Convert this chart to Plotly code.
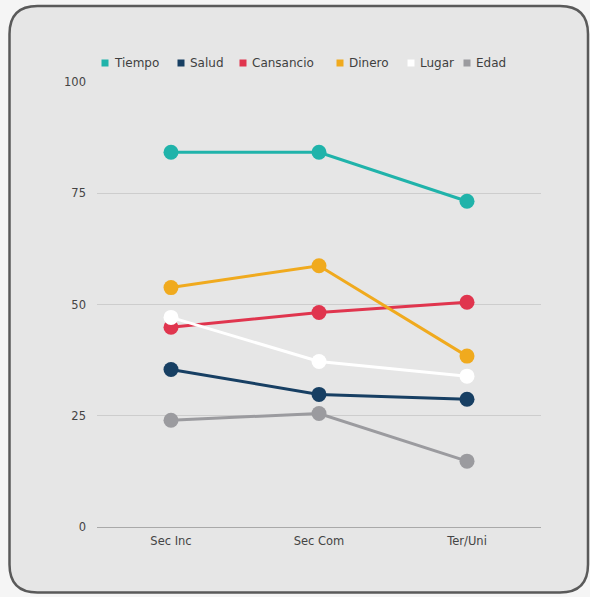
import plotly.graph_objects as go

categories = ["Sec Inc", "Sec Com", "Ter/Uni"]
series_names = ["Tiempo", "Salud", "Cansancio", "Dinero", "Lugar", "Edad"]
tiempo = [84.2, 84.2, 73.2]
salud = [35.4, 29.8, 28.7]
cansancio = [44.9, 48.2, 50.5]
dinero = [53.8, 58.7, 38.4]
lugar = [47.1, 37.2, 33.9]
edad = [24.0, 25.5, 14.8]
colors = ["#20b3aa", "#173f63", "#e0354e", "#f0aa1e", "#ffffff", "#9b9b9f"]
y_ticks = [0, 25, 50, 75, 100]

values = [tiempo, salud, cansancio, dinero, lugar, edad]

W, H = 590, 597
L, R, T, B = 97, 49, 82, 70
pw, ph = W - L - R, H - T - B

# legend layout (pixel x of each legend square centre, legend row y)
legend_px = [105, 181, 243, 340, 411, 467]
legend_py = 63

FONT = "'DejaVu Sans', Lato, sans-serif"

fig = go.Figure()
for name, vals, col in zip(series_names, values, colors):
    fig.add_trace(go.Scatter(
        x=categories, y=vals, mode="lines+markers", name=name,
        line=dict(color=col, width=3), marker=dict(color=col, size=15),
        showlegend=False, hoverinfo="x+y+name"))


def px(x):
    return (x - L) / pw


def py(y):
    return (H - B - y) / ph


x0, y0, x1, y1, r = 9.5, 6, 588, 592.5, 28
path = (f"M {px(x0 + r)},{py(y0)} L {px(x1 - r)},{py(y0)} "
        f"Q {px(x1)},{py(y0)} {px(x1)},{py(y0 + r)} "
        f"L {px(x1)},{py(y1 - r)} Q {px(x1)},{py(y1)} {px(x1 - r)},{py(y1)} "
        f"L {px(x0 + r)},{py(y1)} Q {px(x0)},{py(y1)} {px(x0)},{py(y1 - r)} "
        f"L {px(x0)},{py(y0 + r)} Q {px(x0)},{py(y0)} {px(x0 + r)},{py(y0)} Z")

shapes = [dict(type="path", xref="paper", yref="paper", path=path,
               fillcolor="#e6e6e6", line=dict(color="#5a5a5a", width=2.5),
               layer="below")]
annotations = []
for name, col, lx in zip(series_names, colors, legend_px):
    shapes.append(dict(type="rect", xref="paper", yref="paper",
                       x0=px(lx - 3.5), x1=px(lx + 3.5),
                       y0=py(legend_py + 3.5), y1=py(legend_py - 3.5),
                       fillcolor=col, line=dict(width=0)))
    annotations.append(dict(xref="paper", yref="paper", x=px(lx + 7),
                            y=py(legend_py), xanchor="left", yanchor="middle",
                            text=name, showarrow=False,
                            font=dict(family=FONT, size=12, color="#3f3f3f")))

fig.update_layout(
    width=W, height=H,
    margin=dict(l=L, r=R, t=T, b=B, pad=0),
    paper_bgcolor="#f5f5f5", plot_bgcolor="rgba(0,0,0,0)",
    font=dict(family=FONT, size=11.5, color="#444444"),
    shapes=shapes,
    annotations=annotations,
    showlegend=False,
    xaxis=dict(type="category", range=[-0.5, 2.5], showgrid=False,
               showline=False, ticks="", ticklabelstandoff=5,
               tickfont=dict(size=11.5, color="#444444"), fixedrange=True),
    yaxis=dict(range=[0, 100], tickvals=y_ticks, showgrid=True,
               gridcolor="#cdcdcd", gridwidth=1, zeroline=True,
               zerolinecolor="#a9a9a9", zerolinewidth=1.3, showline=False,
               ticks="", ticklabelstandoff=10,
               tickfont=dict(size=11.5, color="#444444"), fixedrange=True),
)

fig.write_html("out.html", config={"displayModeBar": False},
               post_script="document.body.style.margin='0';"
                           "document.body.style.overflow='hidden';")
